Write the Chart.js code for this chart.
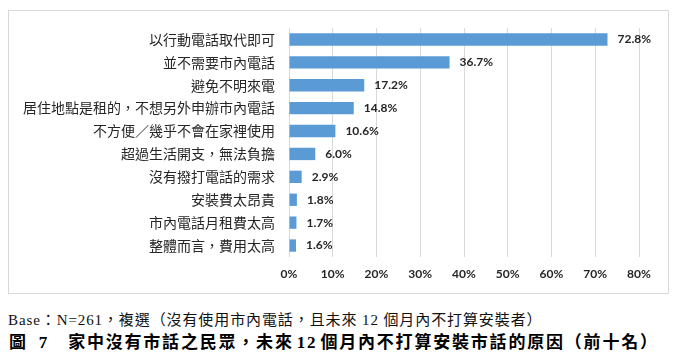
<!DOCTYPE html>
<html lang="zh-Hant-TW">
<head>
<meta charset="utf-8">
<script src="https://cdn.jsdelivr.net/npm/chart.js@4/dist/chart.umd.min.js"></script>
<style>
  html, body { margin: 0; padding: 0; background: #fff; }
  body { width: 676px; height: 357px; position: relative; overflow: hidden; }
  #box { position: absolute; left: 8px; top: 10px; width: 659px; height: 282px; border: 1px solid #d9d9d9; }
  #c { position: absolute; left: 0; top: 0; }
  .base { position: absolute; left: 8px; top: 310px; font-family: "Liberation Serif", "Noto Sans CJK TC", serif; font-size: 15px; line-height: 20px; color: #111; letter-spacing: 0.9px; white-space: nowrap; }
  .cap { position: absolute; left: 9px; top: 332px; font-family: "Liberation Serif", "Noto Sans CJK TC", serif; font-weight: bold; font-size: 17px; line-height: 22px; color: #000; letter-spacing: 1.8px; word-spacing: -3px; white-space: nowrap; }
</style>
</head>
<body>
<div id="box"></div>
<canvas id="c" lang="zh-Hant-TW" width="676" height="300" style="width:676px;height:300px"></canvas>
<div class="base">Base：N=261，複選（沒有使用市內電話，且未來 12 個月內不打算安裝者）</div>
<div class="cap">圖<span style="margin-left:11px">7</span><span style="margin-left:19px">家中沒有市話之民眾，未來 12 個月內不打算安裝市話的原因（前十名）</span></div>
<script>
const categories = [
  "以行動電話取代即可",
  "並不需要市內電話",
  "避免不明來電",
  "居住地點是租的，不想另外申辦市內電話",
  "不方便／幾乎不會在家裡使用",
  "超過生活開支，無法負擔",
  "沒有撥打電話的需求",
  "安裝費太昂貴",
  "市內電話月租費太高",
  "整體而言，費用太高"
];
const values = [72.8, 36.7, 17.2, 14.8, 10.6, 6.0, 2.9, 1.8, 1.7, 1.6];
const xTickLabels = ["0%", "10%", "20%", "30%", "40%", "50%", "60%", "70%", "80%"];

const valueLabels = {
  id: 'valueLabels',
  afterDatasetsDraw(chart) {
    const ctx = chart.ctx;
    const meta = chart.getDatasetMeta(0);
    ctx.save();
    ctx.font = 'bold 12px Lato, "Liberation Sans", sans-serif';
    ctx.fillStyle = '#262626';
    ctx.textAlign = 'left';
    ctx.textBaseline = 'middle';
    meta.data.forEach((bar, i) => {
      ctx.fillText(values[i].toFixed(1) + '%', bar.x + 10, bar.y);
    });
    ctx.restore();
  }
};

new Chart(document.getElementById('c'), {
  type: 'bar',
  data: {
    labels: categories,
    datasets: [{
      data: values,
      backgroundColor: '#5B9BD5',
      borderWidth: 0,
      barPercentage: 0.54,
      categoryPercentage: 1.0
    }]
  },
  options: {
    indexAxis: 'y',
    responsive: false,
    animation: false,
    layout: { padding: { top: 28, right: 37, bottom: 0, left: 0 } },
    plugins: { legend: { display: false }, tooltip: { enabled: false } },
    scales: {
      x: {
        min: 0, max: 80,
        ticks: {
          stepSize: 10,
          padding: 10,
          color: '#262626',
          font: { family: 'Lato, "Liberation Sans", sans-serif', size: 12, weight: 'bold' },
          callback: (v, i) => xTickLabels[i]
        },
        grid: { color: '#d9d9d9', lineWidth: 1, drawTicks: false },
        border: { display: false },
        afterFit: (s) => { s.height = 43; }
      },
      y: {
        ticks: {
          padding: 14,
          color: '#262626',
          font: { family: '"Noto Sans CJK TC", sans-serif', size: 14 }
        },
        grid: { display: false, drawTicks: false },
        border: { display: false },
        afterFit: (s) => { s.width = 289; }
      }
    }
  },
  plugins: [valueLabels]
});
</script>
</body>
</html>
